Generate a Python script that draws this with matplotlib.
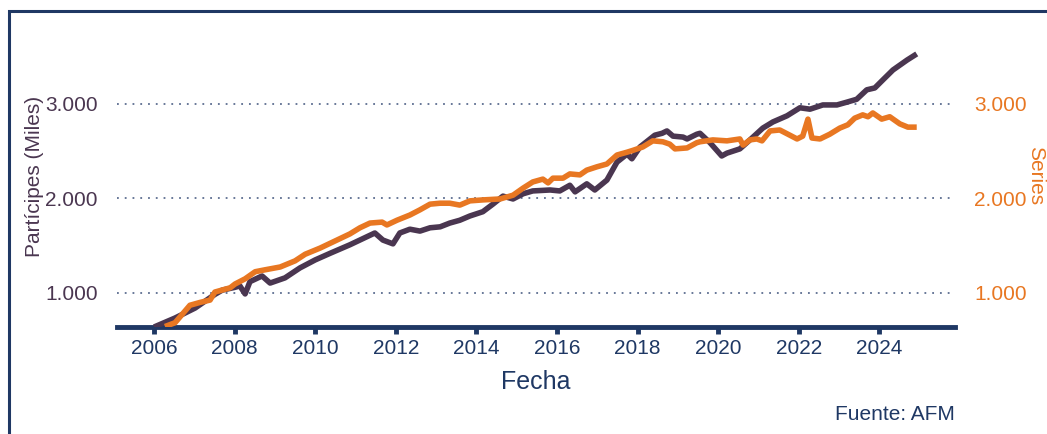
import numpy as np
import matplotlib
matplotlib.use("Agg")
from matplotlib import pyplot as plt
from matplotlib.patches import Rectangle

# Partícipes (miles) - fecha en años decimales
fecha_p = [2006.00, 2006.52, 2007.02, 2007.51, 2007.69, 2008.01, 2008.13, 2008.26, 2008.38,
           2008.68, 2008.88, 2009.25, 2009.62, 2010.00, 2010.37, 2010.86, 2011.48, 2011.68,
           2011.93, 2012.10, 2012.35, 2012.60, 2012.85, 2013.10, 2013.34, 2013.59, 2013.84,
           2014.16, 2014.41, 2014.66, 2014.91, 2015.16, 2015.40, 2015.83, 2016.07, 2016.32,
           2016.45, 2016.74, 2016.94, 2017.24, 2017.49, 2017.74, 2017.86, 2018.06, 2018.43,
           2018.61, 2018.73, 2018.88, 2019.13, 2019.23, 2019.47, 2019.55, 2019.80, 2020.09,
           2020.22, 2020.54, 2020.79, 2021.11, 2021.36, 2021.71, 2022.03, 2022.28, 2022.60,
           2022.95, 2023.20, 2023.44, 2023.69, 2023.89, 2024.09, 2024.34, 2024.69, 2024.93]
participes = [640, 735, 841, 985, 1030, 1060, 1075, 990, 1120,
              1180, 1105, 1160, 1265, 1350, 1420, 1510, 1635, 1560,
              1520, 1635, 1675, 1655, 1690, 1700, 1740, 1770, 1815,
              1860, 1940, 2025, 1995, 2050, 2080, 2090, 2080, 2140,
              2070, 2155, 2090, 2195, 2385, 2470, 2420, 2545, 2670,
              2690, 2715, 2660, 2650, 2630, 2680, 2690, 2590, 2450,
              2480, 2525, 2620, 2745, 2810, 2875, 2960, 2945, 2990,
              2990, 3020, 3050, 3150, 3170, 3255, 3360, 3465, 3530]

# Serie secundaria
fecha_s = [2006.27, 2006.52, 2006.89, 2007.14, 2007.39, 2007.51, 2007.89, 2008.01, 2008.26,
           2008.51, 2008.75, 2009.13, 2009.50, 2009.75, 2010.12, 2010.49, 2010.86, 2011.11,
           2011.36, 2011.66, 2011.78, 2012.03, 2012.35, 2012.60, 2012.85, 2013.10, 2013.34,
           2013.59, 2013.84, 2014.16, 2014.59, 2014.91, 2015.16, 2015.40, 2015.65, 2015.78,
           2015.90, 2016.15, 2016.32, 2016.57, 2016.74, 2016.99, 2017.24, 2017.49, 2017.74,
           2017.89, 2018.13, 2018.38, 2018.63, 2018.80, 2018.93, 2019.23, 2019.47, 2019.55,
           2019.87, 2020.22, 2020.54, 2020.62, 2020.79, 2020.96, 2021.09, 2021.29, 2021.53,
           2021.78, 2021.96, 2022.10, 2022.23, 2022.33, 2022.53, 2022.77, 2023.02, 2023.22,
           2023.39, 2023.59, 2023.72, 2023.84, 2024.06, 2024.26, 2024.51, 2024.71, 2024.93]
series = [645, 685, 870, 900, 925, 1010, 1055, 1095, 1150,
          1225, 1245, 1275, 1340, 1410, 1475, 1550, 1625, 1690,
          1740, 1750, 1720, 1770, 1825, 1880, 1940, 1950, 1950,
          1930, 1975, 1985, 1995, 2035, 2110, 2175, 2205, 2165,
          2215, 2215, 2260, 2250, 2300, 2335, 2365, 2460, 2490,
          2510, 2545, 2610, 2600, 2575, 2525, 2535, 2590, 2600,
          2620, 2610, 2630, 2565, 2620, 2630, 2610, 2715, 2725,
          2670, 2630, 2660, 2840, 2640, 2630, 2680, 2745, 2780,
          2850, 2885, 2865, 2905, 2840, 2865, 2790, 2755, 2755]

ticks_x = [2006, 2008, 2010, 2012, 2014, 2016, 2018, 2020, 2022, 2024]
ticks_y = [1000, 2000, 3000]

navy = "#1f3864"
purple = "#4a3650"
orange = "#e87722"
grid_c = "#5c6d90"

plt.rcParams['font.family'] = ['Liberation Sans', 'DejaVu Sans']

fig = plt.figure(figsize=(10.47, 4.34), dpi=100)
ax = fig.add_axes([117/1047, 1-327/434, (955-117)/1047, (327-25)/434])
ax2 = ax.twinx()

ylim = (640, 3836)
xlim = (2005.08, 2025.88)

for y in ticks_y:
    ax.plot([xlim[0], 2025.83], [y, y], color=grid_c, lw=1.3, ls=(0, (1, 3.3)), zorder=1)

ax.plot(fecha_p, participes, color=purple, lw=4, solid_capstyle='butt', zorder=3)
ax2.plot(fecha_s, series, color=orange, lw=4, solid_capstyle='butt', zorder=3)

for a in (ax, ax2):
    a.set_xlim(*xlim)
    a.set_ylim(*ylim)
    for s in ['top', 'left', 'right', 'bottom']:
        a.spines[s].set_visible(False)

ax.spines['bottom'].set_visible(True)
ax.spines['bottom'].set_color(navy)
ax.spines['bottom'].set_linewidth(3.5)

ax.set_xticks(ticks_x)
ax.set_xticklabels([str(t) for t in ticks_x])
ax.tick_params(axis='x', colors=navy, labelcolor=navy, length=5, width=3.5,
               labelsize=15, pad=4, direction='out')

ax.set_yticks(ticks_y)
ax.set_yticklabels(['1.000', '2.000', '3.000'])
ax.tick_params(axis='y', length=0, labelsize=15, labelcolor=purple, pad=14)

ax2.set_yticks(ticks_y)
ax2.set_yticklabels(['1.000', '2.000', '3.000'])
ax2.tick_params(axis='y', length=0, labelsize=15, labelcolor=orange, pad=14)
ax2.tick_params(axis='x', length=0)

ax.set_xlabel("Fecha", fontsize=18, color=navy, labelpad=8)
ax.set_ylabel("Partícipes (Miles)", fontsize=15, color=purple, labelpad=1)
fig.text(1036/1047, 1-176/434, "Series", fontsize=15, color=orange,
         rotation=270, ha='center', va='center')

fig.text(955/1047, 1-415/434, "Fuente: AFM", fontsize=15, color=navy,
         ha='right', va='center')

fig.patches.append(Rectangle((8.5/1047, -0.1), 1.2, 1.1 - 11/434,
                             transform=fig.transFigure, fill=False,
                             edgecolor=navy, lw=2.2))

fig.savefig("out.png", dpi=100)
